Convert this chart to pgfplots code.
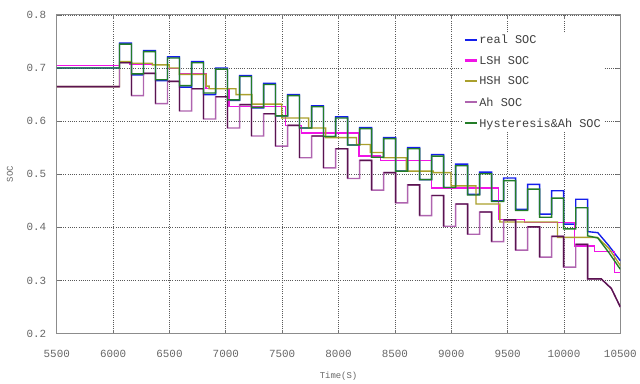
\documentclass[border=0pt]{standalone}
\usepackage{fontspec}
\setmonofont{Liberation Mono}
\usepackage{pgfplots}
\pgfplotsset{compat=1.18}
\definecolor{cblue}{RGB}{20,30,235}
\definecolor{cmag}{RGB}{240,20,230}
\definecolor{colive}{RGB}{170,160,45}
\definecolor{cmauve}{RGB}{175,100,175}
\definecolor{cdark}{RGB}{90,20,80}
\definecolor{cgreen}{RGB}{35,125,40}
\begin{document}
\begin{tikzpicture}
\begin{axis}[
  scale only axis, width=566bp, height=320bp,
  xmin=5500, xmax=10500, ymin=0.2, ymax=0.8,
  xtick={5500,6000,...,10500}, ytick={0.2,0.3,0.4,0.5,0.6,0.7,0.8},
  scaled x ticks=false,
  grid=major,
  major grid style={dash pattern=on 0.9pt off 1.3pt, color=black!65, line width=0.7pt},
  axis line style={draw=black!45, line width=0.9pt},
  tick style={black!55, line width=0.7pt}, tick align=inside, major tick length=4bp,
  /pgf/number format/assume math mode=true,
  ticklabel style={font=\fontsize{11}{12}\selectfont\ttfamily, text=black!60},
  xticklabel style={/pgf/number format/1000 sep={}, yshift=-13bp},
  yticklabel style={/pgf/number format/fixed, /pgf/number format/precision=1, /pgf/number format/fixed zerofill, xshift=-7bp},
  xlabel={Time(S)}, xlabel style={font=\fontsize{9}{10}\selectfont\ttfamily, text=black!60, yshift=-8bp},
  ylabel={SOC}, ylabel style={font=\fontsize{9}{10}\selectfont\ttfamily, text=black!60, yshift=7bp},
  unbounded coords=jump,
  every axis plot/.append style={line width=1.4pt, line join=miter},
  legend style={at={(0.72,0.945)}, anchor=north west, draw=none, fill=white,
    font=\fontsize{12}{13}\selectfont\ttfamily, text=black!75, row sep=8.2bp, inner sep=1bp,
    nodes={inner sep=1.5bp}},
  legend cell align=left,
  legend image code/.code={\draw[#1, line width=2.2pt] (0bp,0.6bp) -- (12bp,0.6bp);},
]
% real SOC
\addplot[cblue] coordinates {(5500,0.700)(6057,0.700)(6057,0.747)(6163,0.747)(6163,0.687)(6270,0.687)(6270,0.733)(6376,0.733)(6376,0.676)(6483,0.676)(6483,0.721)(6589,0.721)(6589,0.664)(6696,0.664)(6696,0.712)(6802,0.712)(6802,0.650)(6909,0.650)(6909,0.700)(7015,0.700)(7015,0.639)(7122,0.639)(7122,0.686)(7228,0.686)(7228,0.625)(7335,0.625)(7335,0.671)(7441,0.671)(7441,0.610)(7548,0.610)(7548,0.650)(7654,0.650)(7654,0.587)(7761,0.587)(7761,0.629)(7867,0.629)(7867,0.571)(7974,0.571)(7974,0.608)(8080,0.608)(8080,0.555)(8187,0.555)(8187,0.588)(8293,0.588)(8293,0.532)(8400,0.532)(8400,0.569)(8506,0.569)(8506,0.506)(8613,0.506)(8613,0.550)(8719,0.550)(8719,0.490)(8826,0.490)(8826,0.537)(8932,0.537)(8932,0.475)(9039,0.475)(9039,0.519)(9145,0.519)(9145,0.462)(9252,0.462)(9252,0.504)(9358,0.504)(9358,0.450)(9465,0.450)(9465,0.493)(9571,0.493)(9571,0.434)(9678,0.434)(9678,0.481)(9784,0.481)(9784,0.425)(9891,0.425)(9891,0.469)(9997,0.469)(9997,0.406)(10104,0.406)(10104,0.453)(10210,0.453)(10210,0.392)(10300,0.390)(10400,0.365)(10500,0.337)};
\addlegendentry{real SOC}
% LSH SOC
\addplot[cmag] coordinates {(5500,0.705)(6057,0.705)(6057,0.712)(6150,0.712)(6150,0.707)(6480,0.707)(6480,0.699)(6587,0.699)(6587,0.690)(6825,0.690)(6825,0.661)(7028,0.661)(7028,0.628)(7532,0.628)(7532,0.592)(7673,0.592)(7673,0.578)(8180,0.578)(8180,0.534)(8371,0.534)(8371,0.526)(8822,0.526)(8822,0.474)(9420,0.474)(9420,0.415)(9652,0.415)(9652,0.409)(10094,0.409)(10094,0.365)(10270,0.365)(10270,0.355)(10447,0.355)(10447,0.315)(10500,0.315)};
\addlegendentry{LSH SOC}
% HSH SOC
\addplot[colive] coordinates {(5500,0.665)(6057,0.665)(6057,0.712)(6163,0.712)(6163,0.709)(6348,0.709)(6348,0.706)(6498,0.706)(6498,0.700)(6587,0.700)(6587,0.688)(6825,0.688)(6825,0.666)(6852,0.666)(6852,0.661)(7090,0.661)(7090,0.650)(7231,0.650)(7231,0.632)(7496,0.632)(7496,0.606)(7735,0.606)(7735,0.587)(7885,0.587)(7885,0.569)(8159,0.569)(8159,0.556)(8283,0.556)(8283,0.541)(8398,0.541)(8398,0.531)(8601,0.531)(8601,0.506)(8839,0.506)(8839,0.503)(8998,0.503)(8998,0.478)(9219,0.478)(9219,0.444)(9431,0.444)(9431,0.410)(9943,0.410)(9943,0.381)(10297,0.381)(10400,0.360)(10500,0.328)};
\addlegendentry{HSH SOC}
% Ah SOC
\addplot[cmauve] coordinates {(5500,0.665)(6057,0.665)(6057,0.710)(6163,0.710)(6163,0.648)(6270,0.648)(6270,0.690)(6376,0.690)(6376,0.633)(6483,0.633)(6483,0.675)(6589,0.675)(6589,0.619)(6696,0.619)(6696,0.661)(6802,0.661)(6802,0.604)(6909,0.604)(6909,0.646)(7015,0.646)(7015,0.587)(7122,0.587)(7122,0.631)(7228,0.631)(7228,0.572)(7335,0.572)(7335,0.614)(7441,0.614)(7441,0.553)(7548,0.553)(7548,0.592)(7654,0.592)(7654,0.531)(7761,0.531)(7761,0.572)(7867,0.572)(7867,0.512)(7974,0.512)(7974,0.548)(8080,0.548)(8080,0.492)(8187,0.492)(8187,0.526)(8293,0.526)(8293,0.470)(8400,0.470)(8400,0.503)(8506,0.503)(8506,0.446)(8613,0.446)(8613,0.480)(8719,0.480)(8719,0.422)(8826,0.422)(8826,0.460)(8932,0.460)(8932,0.402)(9039,0.402)(9039,0.444)(9145,0.444)(9145,0.387)(9252,0.387)(9252,0.429)(9358,0.429)(9358,0.373)(9465,0.373)(9465,0.414)(9571,0.414)(9571,0.357)(9678,0.357)(9678,0.401)(9784,0.401)(9784,0.344)(9891,0.344)(9891,0.383)(9997,0.383)(9997,0.325)(10104,0.325)(10104,0.368)(10210,0.368)(10210,0.303)(10330,0.303)(10420,0.285)(10500,0.250)};
\addlegendentry{Ah SOC}
% dark overlay on Ah upper segments
\addplot[cdark, forget plot] coordinates {(5500,0.665)(6057,0.665)(6057,nan)
(6057,0.710)(6163,0.710)(6163,0.648)(6163,nan)(6270,0.690)(6376,0.690)(6376,0.633)(6376,nan)(6483,0.675)(6589,0.675)(6589,0.619)(6589,nan)(6696,0.661)(6802,0.661)(6802,0.604)(6802,nan)(6909,0.646)(7015,0.646)(7015,0.587)(7015,nan)(7122,0.631)(7228,0.631)(7228,0.572)(7228,nan)(7335,0.614)(7441,0.614)(7441,0.553)(7441,nan)(7548,0.592)(7654,0.592)(7654,0.531)(7654,nan)(7761,0.572)(7867,0.572)(7867,0.512)(7867,nan)(7974,0.548)(8080,0.548)(8080,0.492)(8080,nan)(8187,0.526)(8293,0.526)(8293,0.470)(8293,nan)(8400,0.503)(8506,0.503)(8506,0.446)(8506,nan)(8613,0.480)(8719,0.480)(8719,0.422)(8719,nan)(8826,0.460)(8932,0.460)(8932,0.402)(8932,nan)(9039,0.444)(9145,0.444)(9145,0.387)(9145,nan)(9252,0.429)(9358,0.429)(9358,0.373)(9358,nan)(9465,0.414)(9571,0.414)(9571,0.357)(9571,nan)(9678,0.401)(9784,0.401)(9784,0.344)(9784,nan)(9891,0.383)(9997,0.383)(9997,0.325)(9997,nan)(10104,0.368)(10210,0.368)(10210,0.303)(10330,0.303)(10420,0.285)(10500,0.250)};
% Hysteresis & Ah SOC
\addplot[cgreen] coordinates {(5500,0.700)(6057,0.700)(6057,0.745)(6163,0.745)(6163,0.689)(6270,0.689)(6270,0.731)(6376,0.731)(6376,0.678)(6483,0.678)(6483,0.719)(6589,0.719)(6589,0.667)(6696,0.667)(6696,0.710)(6802,0.710)(6802,0.653)(6909,0.653)(6909,0.698)(7015,0.698)(7015,0.640)(7122,0.640)(7122,0.684)(7228,0.684)(7228,0.626)(7335,0.626)(7335,0.669)(7441,0.669)(7441,0.610)(7548,0.610)(7548,0.648)(7654,0.648)(7654,0.587)(7761,0.587)(7761,0.627)(7867,0.627)(7867,0.571)(7974,0.571)(7974,0.606)(8080,0.606)(8080,0.555)(8187,0.555)(8187,0.586)(8293,0.586)(8293,0.532)(8400,0.532)(8400,0.567)(8506,0.567)(8506,0.506)(8613,0.506)(8613,0.548)(8719,0.548)(8719,0.490)(8826,0.490)(8826,0.534)(8932,0.534)(8932,0.475)(9039,0.475)(9039,0.516)(9145,0.516)(9145,0.461)(9252,0.461)(9252,0.501)(9358,0.501)(9358,0.449)(9465,0.449)(9465,0.488)(9571,0.488)(9571,0.432)(9678,0.432)(9678,0.472)(9784,0.472)(9784,0.419)(9891,0.419)(9891,0.455)(9997,0.455)(9997,0.397)(10104,0.397)(10104,0.437)(10210,0.437)(10210,0.384)(10300,0.380)(10400,0.352)(10500,0.321)};
\addlegendentry{Hysteresis\&Ah SOC}
\end{axis}
\path ([xshift=-57bp,yshift=-48bp]current axis.south west) rectangle ([xshift=17bp,yshift=15bp]current axis.north east);
\end{tikzpicture}
\end{document}
